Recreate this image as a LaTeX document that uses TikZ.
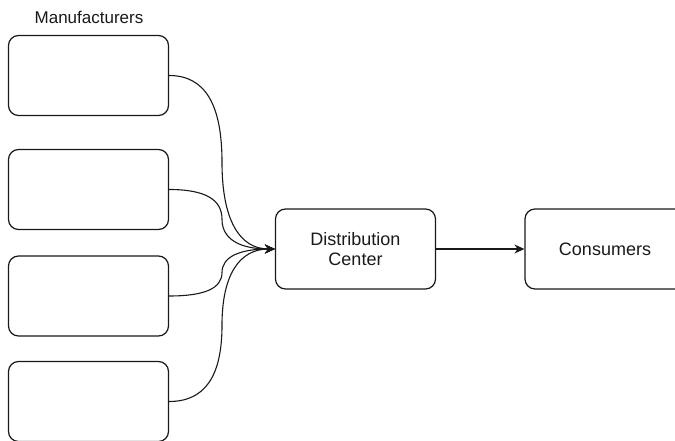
\documentclass[tikz,border=0pt]{standalone}
\usepackage{fontspec}
\setmainfont{Liberation Sans}
\usetikzlibrary{arrows.meta}
\begin{document}
\begin{tikzpicture}[x=1pt,y=-1pt,
  box/.style={draw=black!90, line width=1.2pt, rounded corners=10pt,
    minimum width=160pt, minimum height=80pt, inner sep=0pt, align=center,
    font=\fontsize{18}{20}\selectfont, text=black!90},
  flow/.style={draw=black!90, line width=1.1pt,
    -{Stealth[length=10pt,width=9pt]}}]
\useasboundingbox (0,0) rectangle (675,441);
% title
\node[font=\fontsize{17}{20}\selectfont, text=black!90] (title) at (89,17) {Manufacturers};
% manufacturer boxes
\node[box] (m1) at (88.5,75.5) {};
\node[box] (m2) at (88.5,189.5) {};
\node[box] (m3) at (88.5,296) {};
\node[box] (m4) at (88.5,401.5) {};
% distribution and consumers
\node[box] (dc) at (355.5,249) {Distribution\\Center};
\node[box] (con) at (605,249) {Consumers};
% bend points of the curved connectors
\coordinate (k1) at (222,162.25);
\coordinate (k2) at (222,219.25);
\coordinate (k3) at (222,272.5);
\coordinate (k4) at (222,325.25);
\draw[flow] (m1.east) .. controls +(36,0) and +(0,-57.8) .. (k1)
  .. controls +(0,57.8) and +(-35.3,0) .. (dc.west);
\draw[flow] (m2.east) .. controls +(36,0) and +(0,-19.8) .. (k2)
  .. controls +(0,19.8) and +(-35.3,0) .. (dc.west);
\draw[flow] (m3.east) .. controls +(36,0) and +(0,15.7) .. (k3)
  .. controls +(0,-15.7) and +(-35.3,0) .. (dc.west);
\draw[flow] (m4.east) .. controls +(36,0) and +(0,50.8) .. (k4)
  .. controls +(0,-50.8) and +(-35.3,0) .. (dc.west);
\draw[flow] (dc.east) -- (con.west);
\end{tikzpicture}
\end{document}
